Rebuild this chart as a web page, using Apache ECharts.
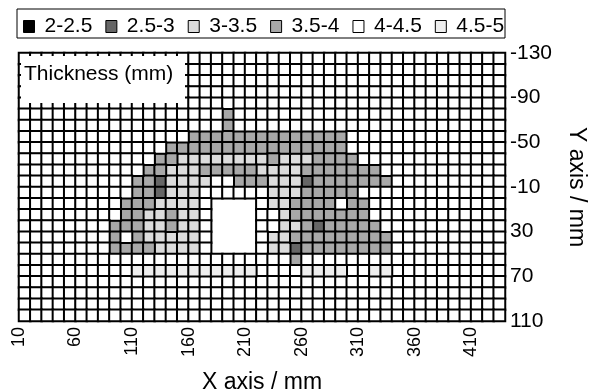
<!DOCTYPE html>
<html>
<head>
<meta charset="utf-8">
<title>Thickness map</title>
<script src="https://cdn.jsdelivr.net/npm/echarts@6.0.0/dist/echarts.min.js"></script>
<style>
  html, body { margin: 0; padding: 0; background: #fff; }
  #chart { width: 589px; height: 392px; }
</style>
</head>
<body>
<div id="chart"></div>
<script>
// grid points (mm) used as tick labels
const xTicks = ['10','20','30','40','50','60','70','80','90','100','110','120','130','140','150',
  '160','170','180','190','200','210','220','230','240','250','260','270','280','290','300',
  '310','320','330','340','350','360','370','380','390','400','410','420','430','440'];
const yTicks = ['-130','-120','-110','-100','-90','-80','-70','-60','-50','-40','-30','-20','-10',
  '0','10','20','30','40','50','60','70','80','90','100','110'];

// thickness classes
const classNames = ['2-2.5', '2.5-3', '3-3.5', '3.5-4', '4-4.5', '4.5-5'];
const classValues = [2.25, 2.75, 3.25, 3.75, 4.25, 4.75];
const classColors = ['#000000', '#666666', '#dcdcdc', '#a8a8a8', '#ffffff', '#eeeeee'];

// class index of each cell ('.' = no data)
// one string per row, from y=-130 (top) down to y=110, one char per 10 mm in x
const thicknessRows = [
  '4444444444444444444444444444444444444444444',
  '4444444444444444444444444444444444444444444',
  '4444444444444444444444444444444444444444444',
  '4444444444444444444444444444444444444444444',
  '4444444444444444444444444444444444444444444',
  '4444444444444444443444444444444444444444444',
  '4444444444444444443444444444444444444444444',
  '4444444444444443333333333333344444444444444',
  '4444444444444333333333333333344444444444444',
  '4444444444443322222222322233334444444444444',
  '4444444444433222333332222333333344444444444',
  '4444444444331222244333222133333334444444444',
  '4444444444331222444444222333334444444444444',
  '44444444433322224....4223333433444444444444',
  '44444444433223224....4423333333444444444444',
  '44444444333223224....4422313333344444444444',
  '44444444343222224....4223333333334444444444',
  '44444444333322224....4221333333334444444444',
  '4444444444444444444444443444444444444444444',
  '4444444444555555555554444555544554444444444',
  '4444444444444444444444444444444444444444444',
  '4444444444444444444444444444444444444444444',
  '4444444444444444444444444444444444444444444',
  '4444444444444444444444444444444444444444444'
];

// heatmap cells sit between the grid points
const cellX = xTicks.slice(1).map((v, i) => String((Number(v) + Number(xTicks[i])) / 2));
const cellY = yTicks.slice(1).map((v, i) => String((Number(v) + Number(yTicks[i])) / 2));

const font = '"Liberation Sans", Arial, sans-serif';

const chart = echarts.init(document.getElementById('chart'), null, { renderer: 'canvas' });

// one heatmap series per class so the legend gets its own entry
const series = classNames.map((name, k) => {
  const data = [];
  thicknessRows.forEach((row, r) => {
    for (let c = 0; c < cellX.length; c++) {
      const code = row.charAt(c) || '4';
      if (code === String(k)) data.push([c, r, classValues[k]]);
    }
  });
  return {
    name: name,
    type: 'heatmap',
    xAxisIndex: 1,
    yAxisIndex: 1,
    data: data,
    itemStyle: { color: classColors[k], borderColor: '#000', borderWidth: 2 },
    emphasis: { disabled: true },
    animation: false
  };
});

const option = {
  animation: false,
  backgroundColor: '#fff',
  textStyle: { fontFamily: font, color: '#000' },
  legend: {
    left: 23,
    top: 16,
    padding: 0,
    itemWidth: 11,
    itemHeight: 12,
    itemGap: 13,
    icon: 'rect',
    selectedMode: false,
    itemStyle: { borderColor: '#000', borderWidth: 1 },
    textStyle: { fontSize: 21, color: '#000', fontFamily: font, padding: [0, 0, 0, 5] },
    data: classNames
  },
  grid: { left: 19, right: 84, top: 53, bottom: 71, outerBoundsMode: 'none' },
  xAxis: [{
    type: 'category',
    data: xTicks,
    boundaryGap: false,
    axisLine: { show: false },
    axisTick: { show: false },
    splitLine: { show: false },
    axisLabel: { interval: 4, rotate: 90, margin: 6, fontSize: 18, color: '#000', fontFamily: font },
    name: 'X axis / mm',
    nameLocation: 'middle',
    nameGap: 50,
    nameTextStyle: { fontSize: 23, color: '#000', fontFamily: font }
  }, {
    type: 'category',
    data: cellX,
    show: false
  }],
  yAxis: [{
    type: 'category',
    data: yTicks,
    inverse: true,
    boundaryGap: false,
    position: 'right',
    axisLine: { show: false },
    axisTick: { show: false },
    splitLine: { show: false },
    axisLabel: { interval: 3, margin: 5, fontSize: 21, color: '#000', fontFamily: font },
    name: 'Y axis / mm',
    nameLocation: 'middle',
    nameRotate: -90,
    nameGap: 60,
    nameTextStyle: { fontSize: 23, color: '#000', fontFamily: font }
  }, {
    type: 'category',
    data: cellY,
    inverse: true,
    show: false
  }],
  graphic: [{
    type: 'rect',
    shape: { x: 17, y: 9, width: 488, height: 29 },
    style: { fill: 'none', stroke: '#000', lineWidth: 1 },
    z: 100
  }, {
    type: 'rect',
    shape: { x: 21, y: 56, width: 164, height: 47 },
    style: { fill: '#fff' },
    z: 100
  }, {
    type: 'text',
    x: 24,
    y: 74,
    style: { text: 'Thickness (mm)', font: '21px ' + font, fill: '#000', verticalAlign: 'middle' },
    z: 101
  }],
  series: series
};

chart.setOption(option);
</script>
</body>
</html>
